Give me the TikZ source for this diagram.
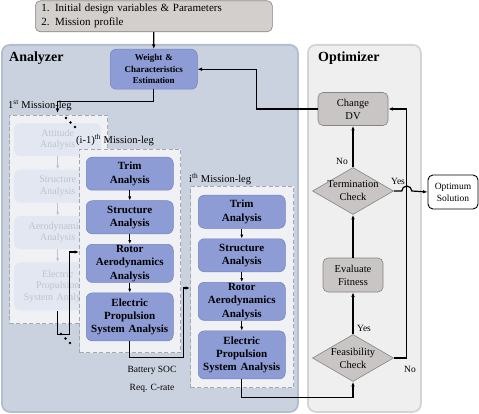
\documentclass[tikz,border=0pt]{standalone}
\usepackage{fontspec}
\setmainfont{Liberation Serif}
\usetikzlibrary{shapes.geometric, arrows.meta, positioning}
\definecolor{anafill}{HTML}{CBD2DF}
\definecolor{analine}{HTML}{B3BDD0}
\definecolor{optfill}{HTML}{EFEFEF}
\definecolor{optline}{HTML}{D4D4D4}
\definecolor{legfill}{HTML}{F0F1F5}
\definecolor{legline}{HTML}{A8A8A8}
\definecolor{stagefill}{HTML}{8E9CD6}
\definecolor{stageline}{HTML}{7282C2}
\definecolor{ghostfill}{HTML}{E3E7F1}
\definecolor{ghosttext}{HTML}{BEC3CF}
\definecolor{procfill}{HTML}{C8C5C4}
\definecolor{procline}{HTML}{858585}
\definecolor{inputfill}{HTML}{D2CFCD}

\begin{document}
\begin{tikzpicture}[
  x=1pt, y=-1pt,
  node distance = 10pt,
  panel/.style  = {rectangle, rounded corners=8pt, line width=1.8pt, anchor=north west, inner sep=0pt},
  legbox/.style = {rectangle, anchor=north west, draw=legline, fill=legfill, line width=1pt,
                   dash pattern=on 4pt off 2.5pt, inner sep=0pt},
  stage/.style  = {rectangle, rounded corners=6pt, minimum width=87pt, minimum height=33pt, text width=85pt,
                   align=center, inner sep=1pt, fill=stagefill, draw=stageline, line width=0.5pt,
                   font=\fontsize{11}{13.3}\selectfont\bfseries},
  ghost/.style  = {rectangle, rounded corners=6pt, minimum width=87pt, minimum height=33pt, text width=85pt,
                   align=center, inner sep=1pt, fill=ghostfill, text=ghosttext,
                   font=\fontsize{10}{11.7}\selectfont},
  proc/.style   = {rectangle, rounded corners=5pt, fill=procfill, draw=procline, line width=0.6pt,
                   align=center, font=\fontsize{10.5}{13}\selectfont},
  check/.style  = {diamond, aspect=1.72, minimum width=81pt, minimum height=47pt, inner sep=-3pt,
                   fill=procfill, draw=procline, line width=0.6pt, align=center,
                   font=\fontsize{10.5}{13}\selectfont},
  arrow/.style  = {-{Latex[length=4.5pt, width=3.5pt]}, line width=1.2pt},
  link/.style   = {-{Latex[length=4pt, width=3.2pt]}, line width=0.9pt},
  faded/.style  = {-{Latex[length=4pt, width=3.2pt]}, line width=0.9pt, color=ghosttext},
  note/.style   = {inner sep=0pt, font=\fontsize{9.5}{11}\selectfont},
  legname/.style= {inner sep=0pt, anchor=west, font=\fontsize{10.5}{12}\selectfont},
  title/.style  = {inner sep=0pt, anchor=west, font=\fontsize{14}{16}\selectfont\bfseries},
]
  \useasboundingbox (0,0) rectangle (479,414);

  % panels
  \node[panel, fill=anafill, draw=analine, minimum width=296pt, minimum height=367pt] (analyzer) at (1,44) {};
  \node[panel, fill=optfill, draw=optline, minimum width=113pt, minimum height=367pt] (optimizer) at (307,44) {};
  \node[title] (anatitle) at (9,58) {Analyzer};
  \node[title] (opttitle) at (318,58) {Optimizer};

  % inputs and estimation
  \node[rectangle, rounded corners=5pt, fill=inputfill, draw=procline, line width=0.6pt, anchor=north west,
        minimum width=237pt, minimum height=31pt, text width=225pt, align=left, inner xsep=6pt,
        font=\fontsize{11}{14}\selectfont] (input) at (35,0.5)
        {1. Initial design variables \& Parameters\\2. Mission profile};
  \node[stage, anchor=north west, minimum height=40pt, font=\fontsize{9}{11.5}\selectfont\bfseries] (weight) at (110,49)
        {Weight \&\\Characteristics\\Estimation};

  % 1st mission-leg
  \node[legbox, minimum width=98pt, minimum height=208pt] (leg1) at (9,115) {};
  \node[legname] (leg1name) at (8,106) {1\textsuperscript{st} Mission-leg};
  \node[ghost, anchor=north west] (g1) at (14,123) {Attitude\\Analysis};
  \node[ghost, below=13pt of g1] (g2) {Structure\\Analysis};
  \node[ghost, below=13pt of g2] (g3) {Aerodynamics\\Analysis};
  \node[ghost, below=13pt of g3, minimum height=48pt] (g4) {Electric\\Propulsion\\System Analysis};
  \foreach \a/\b in {g1/g2, g2/g3, g3/g4}
    \draw[faded] (\a) -- (\b);

  % (i-1)th mission-leg
  \node[legbox, minimum width=101pt, minimum height=203pt] (leg2) at (79,149) {};
  \node[legname] (leg2name) at (76,140) {(i-1)\textsuperscript{th} Mission-leg};
  \node[stage, anchor=north west] (b1) at (86,157) {Trim\\Analysis};
  \node[stage, below=of b1] (b2) {Structure\\Analysis};
  \node[stage, below=of b2] (b3) {Rotor\\Aerodynamics\\Analysis};
  \node[stage, below=of b3, minimum height=48pt] (b4) {Electric\\Propulsion\\System Analysis};

  % ith mission-leg
  \node[legbox, minimum width=103pt, minimum height=201pt] (leg3) at (190,186) {};
  \node[legname] (leg3name) at (189,179) {i\textsuperscript{th} Mission-leg};
  \node[stage, anchor=north west] (c1) at (198,195) {Trim\\Analysis};
  \node[stage, below=of c1] (c2) {Structure\\Analysis};
  \node[stage, below=of c2] (c3) {Rotor\\Aerodynamics\\Analysis};
  \node[stage, below=of c3, minimum height=48pt] (c4) {Electric\\Propulsion\\System Analysis};

  \foreach \a/\b in {b1/b2, b2/b3, b3/b4, c1/c2, c2/c3, c3/c4}
    \draw[link] (\a) -- (\b);

  % dots between legs
  \foreach \p in {(66,118), (70.5,122.5), (75,127), (61,334), (65.5,338.5), (70,343)}
    \fill \p circle (1.3pt);

  \node[note] (soc) at (152,370) {Battery SOC};
  \node[note] (crate) at (152,388) {Req. C-rate};

  % optimizer
  \node[proc, minimum width=70pt, minimum height=33pt] (change) at (353,109) {Change\\DV};
  \node[check] (term) at (353,191) {Termination\\Check};
  \node[proc, minimum width=60pt, minimum height=34pt] (fitness) at (353,275) {Evaluate\\Fitness};
  \node[check] (feas) at (353,358) {Feasibility\\Check};
  \node[proc, fill=white, draw=black, line width=0.9pt, minimum width=50pt, minimum height=34pt,
        font=\fontsize{9.5}{12}\selectfont] (opt) at (453,192) {Optimum\\Solution};

  \node[note] (no1) at (342,161) {No};
  \node[note] (yes1) at (398,181) {Yes};
  \node[note] (yes2) at (364,328) {Yes};
  \node[note] (no2) at (410,369) {No};

  % connectors
  \coordinate (leg1in) at (57.5,113);
  \coordinate (leg2in) at (leg2.west |- 0,252);
  \coordinate (leg3in) at (leg3.west |- 0,288);

  \draw[arrow] (input.south) -- (weight.north);
  \draw[arrow] (weight.south) -- ++(0,12) -| (leg1in);
  \draw[arrow] (g4.south) -- ++(0,24) -- ++(11.5,0) |- (leg2in);
  \draw[arrow] (b4.south) -- ++(0,16) -- ++(53.5,0) |- (leg3in);
  \draw[arrow] (c4.south) -- ++(0,18) -| (feas.south);
  \draw[arrow] (feas.north) -- (fitness.south);
  \draw[arrow] (fitness.north) -- (term.south);
  \draw[arrow] (term.north) -- (change.south);
  \draw[arrow] (feas.east) -- ++(13,0) |- (change.east);
  \draw[arrow] (term.east) -- ++(8,0) arc[start angle=180, end angle=0, radius=5pt] -- (opt.west);
  \draw[arrow] (change.west) -- ++(-61,0) |- (weight.east);
\end{tikzpicture}
\end{document}
